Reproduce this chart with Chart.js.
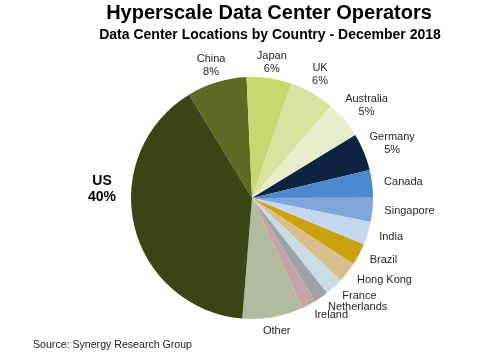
<!DOCTYPE html>
<html><head><meta charset="utf-8">
<script src="https://cdn.jsdelivr.net/npm/chart.js@4.4.1/dist/chart.umd.min.js"></script>
<style>html,body{margin:0;padding:0;background:#fff;overflow:hidden}#wrap{width:483px;height:357px;position:relative}</style>
</head><body><div id="wrap"><canvas id="c" width="483" height="357"></canvas></div>
<script>
const categories = ['China','Japan','UK','Australia','Germany','Canada','Singapore','India','Brazil','Hong Kong','France','Netherlands','Ireland','Other','US'];
const shares = [8,6,6,5,5,3.7,3.2,3.1,2.9,2.7,2.5,1.9,1.9,8.1,40];
const pctLabels = ['8%','6%','6%','5%','5%','','','','','','','','','','40%'];
const titleText = 'Hyperscale Data Center Operators';
const subtitleText = 'Data Center Locations by Country - December 2018';
const sourceText = 'Source: Synergy Research Group';
const sliceColors = ['#5c6a23','#c6d86e','#d9e3a2','#e8eecb','#0e2340','#4d87cc','#80a7d8','#c6d7f0','#caa10e','#d8bf8e','#c9dde4','#9fa3a8','#c6a3a6','#b3bb9e','#3b4415'];

const FONT = '"Liberation Sans", Arial, sans-serif';

const textPlugin = {
  id: 'texts',
  afterDraw(chart) {
    const ctx = chart.ctx;
    ctx.save();
    ctx.fillStyle = '#000';
    ctx.textAlign = 'center';
    ctx.textBaseline = 'alphabetic';
    ctx.font = 'bold 20px ' + FONT;
    ctx.fillText(titleText, 269, 19);
    ctx.font = 'bold 14px ' + FONT;
    ctx.fillText(subtitleText, 270, 39);
    ctx.textAlign = 'left';
    ctx.textBaseline = 'middle';
    ctx.fillStyle = '#222';
    ctx.font = '10.6px ' + FONT;
    ctx.fillText(sourceText, 33, 345);

    const meta = chart.getDatasetMeta(0);
    const maxI = shares.indexOf(Math.max(...shares));
    ctx.textAlign = 'center';
    meta.data.forEach((arc, i) => {
      const p = arc.getProps(['x','y','startAngle','endAngle','outerRadius'], true);
      const r = p.outerRadius;
      const mid = (p.startAngle + p.endAngle) / 2;
      const cx = Math.cos(mid), sy = Math.sin(mid);
      const lines = [categories[i]];
      if (pctLabels[i]) lines.push(pctLabels[i]);
      if (i === maxI) {
        ctx.font = 'bold 14px ' + FONT;
        ctx.fillStyle = '#000';
        const bx = p.x - r - 29, by = p.y - 9;
        const lh = 15.5;
        lines.forEach((t, k) => ctx.fillText(t, bx, by - (lines.length * lh) / 2 + lh / 2 + k * lh));
        return;
      }
      ctx.font = '11px ' + FONT;
      ctx.fillStyle = '#262626';
      const lh = 13;
      const w = Math.max(...lines.map(t => ctx.measureText(t).width));
      const h = lines.length * lh;
      let bx, by;
      if (lines.length === 1 && cx > 0.4) {
        const R = r + 12;
        bx = p.x + R * cx + w / 2;
        by = p.y + R * sy;
      } else {
        const R = r + 8 - 6 * Math.max(0, -sy - 0.9) / 0.1;
        bx = p.x + R * cx + (w / 2) * cx;
        by = p.y + R * sy + (h / 2) * sy;
      }
      lines.forEach((t, k) => ctx.fillText(t, bx, by - h / 2 + lh / 2 + k * lh));
    });
    ctx.restore();
  }
};

new Chart(document.getElementById('c'), {
  type: 'pie',
  data: {
    labels: categories,
    datasets: [{
      data: shares,
      backgroundColor: sliceColors,
      borderColor: sliceColors,
      borderWidth: 0,
      hoverOffset: 0,
      offset: 0
    }]
  },
  options: {
    responsive: false,
    devicePixelRatio: 1,
    animation: false,
    events: [],
    rotation: -31.4,
    layout: { padding: { left: 131, right: 110, top: 77, bottom: 38 } },
    plugins: {
      legend: { display: false },
      tooltip: { enabled: false },
      title: { display: false }
    }
  },
  plugins: [textPlugin]
});
</script>
</body></html>
